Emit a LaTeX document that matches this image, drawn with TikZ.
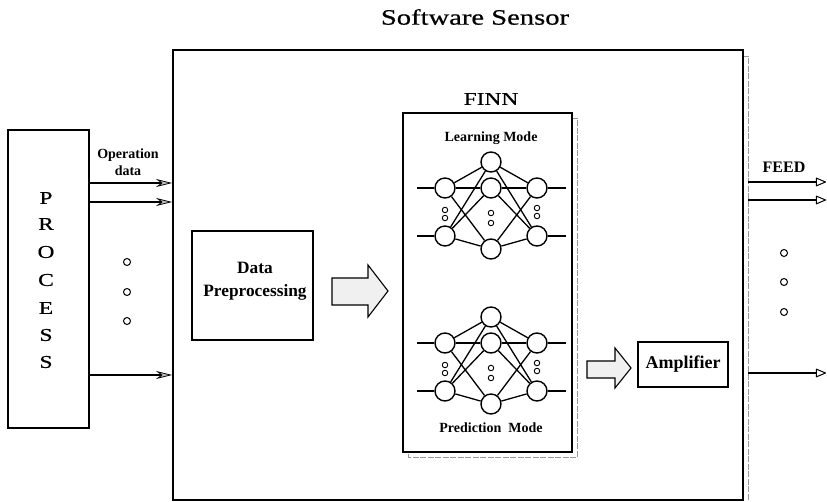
\documentclass[tikz,border=0pt]{standalone}
\usepackage{fontspec}
\setmainfont{Liberation Serif}
\newfontfamily\widefont[FakeStretch=1.3,FakeBold=0.6]{Liberation Serif}
\usetikzlibrary{arrows.meta}
\begin{document}
\begin{tikzpicture}[x=1pt,y=-1pt,
  box/.style={draw, line width=1.9pt, inner sep=0pt},
  neuron/.style={draw, circle, line width=1.4pt, minimum size=20pt, inner sep=0pt, fill=white},
  sdot/.style={draw, circle, line width=0.9pt, minimum size=5.5pt, inner sep=0pt},
  bigdot/.style={draw, circle, line width=1pt, minimum size=7pt, inner sep=0pt},
  link/.style={line width=1.3pt},
  inarrow/.style={line width=1.5pt, -{Stealth[length=16pt,width=8pt,fill=gray!50,line width=0.8pt]}},
  outarrow/.style={line width=1.5pt, -{Triangle[open,round,length=11pt,width=9pt,line width=1pt]}},
  hollow/.style={draw, line width=1.1pt, fill=gray!12, line join=miter},
  lbl/.style={font=\bfseries\fontsize{14}{17}\selectfont, inner sep=0pt},
  shadowline/.style={draw=gray!80, line width=0.8pt, dash pattern=on 6pt off 1.5pt},
]
\useasboundingbox (0,0) rectangle (827,502);

% title
\node[inner sep=0pt] (title) at (475,17) {\widefont\fontsize{22}{26}\selectfont Software Sensor};

% main software sensor box with shadow line
\draw[shadowline] (743,56) -- (748,56) -- (748,500);
\node[box, minimum width=570pt, minimum height=450pt] (main) at (458,275) {};

% process box
\node[box, minimum width=81pt, minimum height=298pt] (process) at (48.5,279) {};
\foreach \ch/\yy [count=\i] in {P/198,R/224,O/252,C/280,E/308,S/335,S/362}
  \node[inner sep=0pt, font=\widefont\fontsize{18}{20}\selectfont] (p\i) at (46,\yy) {\ch};

% input arrows
\foreach \yy [count=\i] in {183,202,375} {
  \coordinate (in\i) at (0,\yy);
  \draw[inarrow] (process.east |- in\i) -- (main.west |- in\i);
}
\node[lbl, align=center] (opdata) at (128,162) {Operation\\data};
\foreach \yy [count=\i] in {262,292,321}
  \node[bigdot] (pd\i) at (127,\yy) {};

% data preprocessing
\node[box, minimum width=121pt, minimum height=109pt] (dp) at (252.5,285.5) {};
\node[inner sep=0pt, align=center, font=\bfseries\fontsize{17.3}{23}\selectfont] (dptext) at (255,281) {Data\\Preprocessing};

% hollow arrow 1
\draw[hollow] (332,278) -- (368,278) -- (368,265) -- (388,291) -- (368,317) -- (368,305) -- (332,305) -- cycle;

% FINN box
\draw[shadowline] (572,118) -- (577,118) -- (577,457) -- (408,457) -- (408,452);
\node[box, minimum width=169pt, minimum height=339pt, fill=white] (finn) at (487.5,282.5) {};
\node[inner sep=0pt] (finnlbl) at (491,99) {\widefont\fontsize{18}{20}\selectfont FINN};
\node[inner sep=0pt, font=\bfseries\fontsize{14}{16}\selectfont] (lm) at (491,138) {Learning Mode};
\node[inner sep=0pt, font=\bfseries\fontsize{14}{16}\selectfont] (pm) at (491,428) {Prediction\ \ Mode};

% neural networks
\foreach \p/\d in {a/0,b/155} {
  \node[neuron] (\p T) at (491,{162+\d}) {};
  \node[neuron] (\p M) at (491,{188+\d}) {};
  \node[neuron] (\p B) at (491,{249+\d}) {};
  \node[neuron] (\p L1) at (445,{188+\d}) {};
  \node[neuron] (\p L2) at (445,{236+\d}) {};
  \node[neuron] (\p R1) at (537,{188+\d}) {};
  \node[neuron] (\p R2) at (537,{236+\d}) {};
  \foreach \l in {L1,L2} \foreach \h in {T,M,B} \draw[link] (\p\l) -- (\p\h);
  \foreach \r in {R1,R2} \foreach \h in {T,M,B} \draw[link] (\p\h) -- (\p\r);
  \coordinate (\p i1) at (417,{188+\d});
  \coordinate (\p i2) at (417,{236+\d});
  \coordinate (\p o1) at (566,{188+\d});
  \coordinate (\p o2) at (566,{236+\d});
  \draw[link] (\p i1) -- (\p L1);
  \draw[link] (\p i2) -- (\p L2);
  \draw[link] (\p R1) -- (\p o1);
  \draw[link] (\p R2) -- (\p o2);
  \node[sdot] (\p dl1) at (445,{210+\d}) {};
  \node[sdot] (\p dl2) at (445,{218+\d}) {};
  \node[sdot] (\p dm1) at (491,{213+\d}) {};
  \node[sdot] (\p dm2) at (491,{223+\d}) {};
  \node[sdot] (\p dr1) at (537,{208+\d}) {};
  \node[sdot] (\p dr2) at (537,{216+\d}) {};
}

% hollow arrow 2
\draw[hollow] (587,361) -- (615,361) -- (615,348) -- (631,368) -- (615,388) -- (615,378) -- (587,378) -- cycle;

% amplifier
\node[box, minimum width=90pt, minimum height=45pt, font=\bfseries\fontsize{18}{20}\selectfont] (amp) at (683,364.5) {Amplifier};

% outputs
\foreach \yy [count=\i] in {182,200,373} {
  \coordinate (os\i) at (748,\yy);
  \coordinate (oe\i) at (826,\yy);
  \draw[outarrow] (os\i) -- (oe\i);
}
\node[inner sep=0pt, font=\bfseries\fontsize{16}{18}\selectfont] (feed) at (784,167) {FEED};
\foreach \yy [count=\i] in {253,282,312}
  \node[bigdot] (fd\i) at (784,\yy) {};
\end{tikzpicture}
\end{document}
